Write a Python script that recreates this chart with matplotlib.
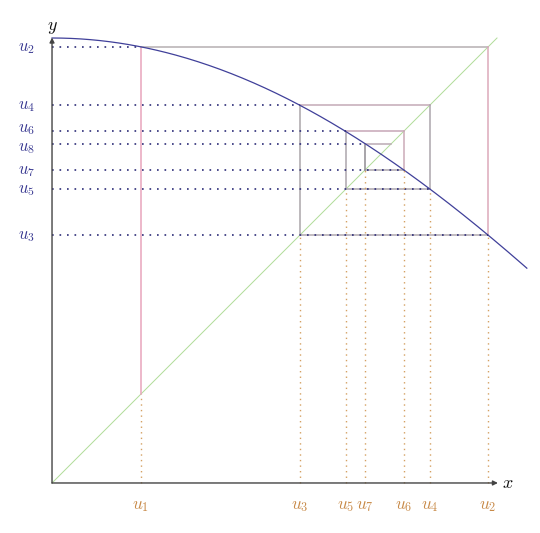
import numpy as np
import matplotlib
matplotlib.use("Agg")
import matplotlib.pyplot as plt

plt.rcParams['mathtext.fontset'] = 'cm'

# iterates u1..u8
u_values = [0.20, 0.980, 0.557, 0.849, 0.661, 0.790, 0.704, 0.762]
x_labels = [r'$u_1$', r'$u_2$', r'$u_3$', r'$u_4$', r'$u_5$', r'$u_6$', r'$u_7$']
y_labels = [r'$u_2$', r'$u_3$', r'$u_4$', r'$u_5$', r'$u_6$', r'$u_7$', r'$u_8$']
y_label_nudge = [0, 0, 0, 0, 0.007, 0, -0.006]
curve_x_max = 1.067

vert_colors = ['#e8a4bc', '#dcaabb', '#aba5aa', '#aca6ac', '#aca5ac', '#cbabb8', '#908c92']
horiz_colors = ['#b5afb2', '#b2aab0', '#c4aab6', '#aca6ac', '#c6a6b6', '#aca6ac', '#baaab4']

blue = '#2c2c78'
orange = '#d4a062'

fig = plt.figure(figsize=(5.40, 5.33), dpi=100)
ax = fig.add_axes([0, 0, 1, 1])
ax.set_xlim(-0.1169, 1.0966)
ax.set_ylim(-0.1124, 1.0854)
ax.axis('off')

# diagonal y = x
ax.plot([0, 1], [0, 1], color='#b0dc98', lw=0.7, zorder=1)

# curve y = cos(x)
xc = np.linspace(0, curve_x_max, 300)
ax.plot(xc, np.cos(xc), color='#40409a', lw=0.9, zorder=3)

u = u_values
n = len(u)
for i in range(n - 1):
    a, b = u[i], u[i + 1]
    # vertical: diagonal -> curve
    ax.plot([a, a], [a, b], color=vert_colors[i], lw=1.1, zorder=2)
    # horizontal: curve -> diagonal
    ax.plot([a, b], [b, b], color=horiz_colors[i], lw=1.1, zorder=2)
    # dotted vertical from x-axis
    ax.plot([a, a], [0, min(a, b)], color=orange, lw=1.0,
            linestyle=(0, (1, 3)), zorder=4)
    # dotted horizontal from y-axis
    ax.plot([0, a], [b, b], color=blue, lw=1.2,
            linestyle=(0, (1, 3.5)), zorder=4)
    ax.text(a, -0.05, x_labels[i], color='#c88a48', fontsize=12.5,
            ha='center', va='center')
    ax.text(-0.058, b + y_label_nudge[i], y_labels[i], color='#3a3a92',
            fontsize=12, ha='center', va='center')

# axes with arrows
ax.annotate('', xy=(1.002, 0), xytext=(0, 0),
            arrowprops=dict(arrowstyle='-|>', color='#444444', lw=1.0,
                            mutation_scale=7, shrinkA=0, shrinkB=0), zorder=5)
ax.annotate('', xy=(0, 1.001), xytext=(0, 0),
            arrowprops=dict(arrowstyle='-|>', color='#444444', lw=1.0,
                            mutation_scale=7, shrinkA=0, shrinkB=0), zorder=5)
ax.text(1.025, 0.0, r'$x$', fontsize=13, ha='center', va='center', color='#111111')
ax.text(0.0, 1.025, r'$y$', fontsize=13, ha='center', va='center', color='#111111')

fig.savefig('out.png', dpi=100)
